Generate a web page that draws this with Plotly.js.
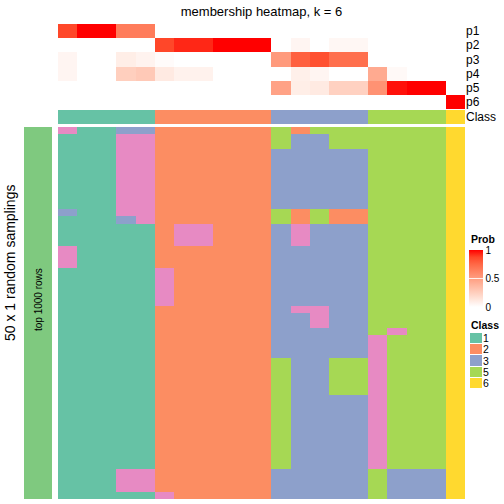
<!DOCTYPE html>
<html>
<head>
<meta charset="utf-8">
<script src="https://cdn.plot.ly/plotly-3.0.1.min.js"></script>
<style>html,body{margin:0;padding:0;background:#fff;overflow:hidden;}#chart{width:560px;height:504px;}</style>
</head>
<body>
<div id="chart"></div>
<script>
// ---------- data ----------
const probLabels = ['p1','p2','p3','p4','p5','p6'];
const p1 = [0.87,1,1,0.66,0.66, 0,0,0,0,0,0, 0,0,0,0,0, 0,0,0,0, 0];
const p2 = [0,0,0,0,0, 0.87,0.93,0.93,1,1,1, 0,0.05,0,0.04,0.04, 0,0,0,0, 0];
const p3 = [0.05,0,0,0.09,0.06, 0.02,0,0,0,0,0, 0.52,0.78,0.84,0.72,0.72, 0,0,0,0, 0];
const p4 = [0.05,0,0,0.25,0.28, 0.11,0.07,0.07,0,0,0, 0,0.08,0.05,0,0, 0.44,0.03,0,0, 0];
const p5 = [0,0,0,0,0, 0,0,0,0,0,0, 0.48,0.09,0.11,0.24,0.24, 0.56,0.97,1,1, 0];
const p6 = [0,0,0,0,0, 0,0,0,0,0,0, 0,0,0,0,0, 0,0,0,0, 1];
const sampleClass = [1,1,1,1,1, 2,2,2,2,2,2, 3,3,3,3,3, 5,5,5,5, 6];
const classLevels = ['1','2','3','5','6'];
const classColors = {1:'#66C2A5',2:'#FC8D62',3:'#8DA0CB',4:'#E78AC3',5:'#A6D854',6:'#FFD92F'};
const samplingLabel = 'top 1000 rows';
const samplingRows = [
 [4,1,1,3,3, 2,2,2,2,2,2, 5,2,5,5,5, 5,5,5,5, 6],
 [1,1,1,4,4, 2,2,2,2,2,2, 5,3,3,5,5, 5,5,5,5, 6],
 [1,1,1,4,4, 2,2,2,2,2,2, 5,3,3,5,5, 5,5,5,5, 6],
 [1,1,1,4,4, 2,2,2,2,2,2, 3,3,3,3,3, 5,5,5,5, 6],
 [1,1,1,4,4, 2,2,2,2,2,2, 3,3,3,3,3, 5,5,5,5, 6],
 [1,1,1,4,4, 2,2,2,2,2,2, 3,3,3,3,3, 5,5,5,5, 6],
 [1,1,1,4,4, 2,2,2,2,2,2, 3,3,3,3,3, 5,5,5,5, 6],
 [1,1,1,4,4, 2,2,2,2,2,2, 3,3,3,3,3, 5,5,5,5, 6],
 [1,1,1,4,4, 2,2,2,2,2,2, 3,3,3,3,3, 5,5,5,5, 6],
 [1,1,1,4,4, 2,2,2,2,2,2, 3,3,3,3,3, 5,5,5,5, 6],
 [1,1,1,4,4, 2,2,2,2,2,2, 3,3,3,3,3, 5,5,5,5, 6],
 [3,1,1,4,4, 2,2,2,2,2,2, 5,2,5,2,2, 5,5,5,5, 6],
 [1,1,1,3,4, 2,2,2,2,2,2, 5,2,5,2,2, 5,5,5,5, 6],
 [1,1,1,1,1, 2,4,4,2,2,2, 3,4,3,3,3, 5,5,5,5, 6],
 [1,1,1,1,1, 2,4,4,2,2,2, 3,4,3,3,3, 5,5,5,5, 6],
 [1,1,1,1,1, 2,4,4,2,2,2, 3,4,3,3,3, 5,5,5,5, 6],
 [4,1,1,1,1, 2,2,2,2,2,2, 3,3,3,3,3, 5,5,5,5, 6],
 [4,1,1,1,1, 2,2,2,2,2,2, 3,3,3,3,3, 5,5,5,5, 6],
 [4,1,1,1,1, 2,2,2,2,2,2, 3,3,3,3,3, 5,5,5,5, 6],
 [1,1,1,1,1, 4,2,2,2,2,2, 3,3,3,3,3, 5,5,5,5, 6],
 [1,1,1,1,1, 4,2,2,2,2,2, 3,3,3,3,3, 5,5,5,5, 6],
 [1,1,1,1,1, 4,2,2,2,2,2, 3,3,3,3,3, 5,5,5,5, 6],
 [1,1,1,1,1, 4,2,2,2,2,2, 3,3,3,3,3, 5,5,5,5, 6],
 [1,1,1,1,1, 4,2,2,2,2,2, 3,3,3,3,3, 5,5,5,5, 6],
 [1,1,1,1,1, 2,2,2,2,2,2, 3,4,4,3,3, 5,5,5,5, 6],
 [1,1,1,1,1, 2,2,2,2,2,2, 3,3,4,3,3, 5,5,5,5, 6],
 [1,1,1,1,1, 2,2,2,2,2,2, 3,3,4,3,3, 5,5,5,5, 6],
 [1,1,1,1,1, 2,2,2,2,2,2, 3,3,3,3,3, 5,4,5,5, 6],
 [1,1,1,1,1, 2,2,2,2,2,2, 3,3,3,3,3, 4,5,5,5, 6],
 [1,1,1,1,1, 2,2,2,2,2,2, 3,3,3,3,3, 4,5,5,5, 6],
 [1,1,1,1,1, 2,2,2,2,2,2, 3,3,3,3,3, 4,5,5,5, 6],
 [1,1,1,1,1, 2,2,2,2,2,2, 5,3,3,5,5, 4,5,5,5, 6],
 [1,1,1,1,1, 2,2,2,2,2,2, 5,3,3,5,5, 4,5,5,5, 6],
 [1,1,1,1,1, 2,2,2,2,2,2, 5,3,3,5,5, 4,5,5,5, 6],
 [1,1,1,1,1, 2,2,2,2,2,2, 5,3,3,5,5, 4,5,5,5, 6],
 [1,1,1,1,1, 2,2,2,2,2,2, 5,3,3,5,5, 4,5,5,5, 6],
 [1,1,1,1,1, 2,2,2,2,2,2, 5,3,3,3,3, 4,5,5,5, 6],
 [1,1,1,1,1, 2,2,2,2,2,2, 5,3,3,3,3, 4,5,5,5, 6],
 [1,1,1,1,1, 2,2,2,2,2,2, 5,3,3,3,3, 4,5,5,5, 6],
 [1,1,1,1,1, 2,2,2,2,2,2, 5,3,3,3,3, 4,5,5,5, 6],
 [1,1,1,1,1, 2,2,2,2,2,2, 5,3,3,3,3, 4,5,5,5, 6],
 [1,1,1,1,1, 2,2,2,2,2,2, 5,3,3,3,3, 4,5,5,5, 6],
 [1,1,1,1,1, 2,2,2,2,2,2, 5,3,3,3,3, 4,5,5,5, 6],
 [1,1,1,1,1, 2,2,2,2,2,2, 5,3,3,3,3, 4,5,5,5, 6],
 [1,1,1,1,1, 2,2,2,2,2,2, 5,3,3,3,3, 4,5,5,5, 6],
 [1,1,1,1,1, 2,2,2,2,2,2, 5,3,3,3,3, 4,5,5,5, 6],
 [1,1,1,4,4, 2,2,2,2,2,2, 3,3,3,3,3, 5,3,3,3, 6],
 [1,1,1,4,4, 2,2,2,2,2,2, 3,3,3,3,3, 5,3,3,3, 6],
 [1,1,1,4,4, 2,2,2,2,2,2, 3,3,3,3,3, 5,3,3,3, 6],
 [1,1,1,1,1, 4,2,2,2,2,2, 3,3,3,3,3, 5,3,3,3, 6]
];

// ---------- helpers ----------
// The figure is laid out 560 px wide so the colour bar never forces a margin;
// only the left 504 px are visible in the 504x504 window.
const W = 560, H = 504;
const px = v => v / W;            // x pixel -> paper
const py = v => 1 - v / H;        // y pixel (from top) -> paper
const font = 'Liberation Sans, Arial, Helvetica, sans-serif';
const nS = sampleClass.length;
const xs = Array.from({length: nS}, (_, i) => i);

// discrete class colour scale (values 1..6)
const classScale = [];
for (let k = 1; k <= 6; k++) {
  classScale.push([(k - 1) / 6, classColors[k]]);
  classScale.push([k / 6, classColors[k]]);
}
// white -> red (Lab-like interpolation)
const probScale = [
  [0, '#FFFFFF'], [0.125, '#FFE7DE'], [0.25, '#FFCFBE'], [0.375, '#FFB7A0'],
  [0.5, '#FF9E81'], [0.625, '#FF8463'], [0.75, '#FF6846'], [0.875, '#FF4628'], [1, '#FF0000']
];

const hx = [px(58), px(465)];
const probDom = [py(109), py(24)];
const classDom = [py(124), py(110)];
const mainDom = [py(499), py(127)];

const traces = [
  {
    type: 'heatmap', x: xs, y: probLabels, z: [p1, p2, p3, p4, p5, p6],
    xaxis: 'x', yaxis: 'y', zmin: 0, zmax: 1, colorscale: probScale, hoverinfo: 'skip',
    colorbar: {
      x: px(469), xanchor: 'left', xpad: 0, y: py(250), yanchor: 'top', ypad: 0,
      len: 57, lenmode: 'pixels', thickness: 14, thicknessmode: 'pixels',
      outlinewidth: 0, tickvals: [0, 0.5, 1], ticktext: ['0', '0.5', '1'],
      ticks: 'inside', ticklen: 14, tickcolor: 'rgba(255,255,255,0.85)',
      tickfont: {family: font, size: 10, color: '#000'}
    }
  },
  {
    type: 'heatmap', x: xs, y: ['Class'], z: [sampleClass],
    xaxis: 'x', yaxis: 'y2', zmin: 0.5, zmax: 6.5, colorscale: classScale, showscale: false, hoverinfo: 'skip'
  },
  {
    type: 'heatmap', x: xs, y: samplingRows.map((_, i) => i), z: samplingRows,
    xaxis: 'x', yaxis: 'y3', zmin: 0.5, zmax: 6.5, colorscale: classScale, showscale: false, hoverinfo: 'skip'
  },
  {
    type: 'heatmap', x: [0], y: [0], z: [[1]],
    xaxis: 'x2', yaxis: 'y4', colorscale: [[0, '#7FC97F'], [1, '#7FC97F']], showscale: false, hoverinfo: 'skip'
  },
  {
    type: 'heatmap', x: [0], y: classLevels, z: classLevels.map(c => [Number(c)]),
    xaxis: 'x3', yaxis: 'y5', zmin: 0.5, zmax: 6.5, colorscale: classScale, showscale: false,
    ygap: 1, hoverinfo: 'skip'
  }
];

const hidden = {showgrid: false, zeroline: false, showticklabels: false, ticks: '', showline: false, fixedrange: true};

const layout = {
  width: W, height: H,
  margin: {l: 0, r: 0, t: 0, b: 0},
  paper_bgcolor: '#fff', plot_bgcolor: 'rgba(0,0,0,0)',
  font: {family: font, color: '#000'},
  title: {
    text: 'membership heatmap, k = 6', font: {family: font, size: 13, color: '#000'},
    x: (58 + 465) / 2 / W, xanchor: 'center', xref: 'paper',
    y: py(11), yanchor: 'middle', yref: 'paper'
  },
  xaxis: Object.assign({}, hidden, {domain: hx, range: [-0.5, nS - 0.5]}),
  yaxis: Object.assign({}, hidden, {
    domain: probDom, anchor: 'x', type: 'category', autorange: 'reversed',
    side: 'right', showticklabels: true, tickmode: 'array', tickvals: probLabels,
    tickfont: {family: font, size: 12}
  }),
  yaxis2: Object.assign({}, hidden, {
    domain: classDom, anchor: 'x', type: 'category',
    side: 'right', showticklabels: true, tickfont: {family: font, size: 12}
  }),
  yaxis3: Object.assign({}, hidden, {domain: mainDom, anchor: 'x', autorange: 'reversed'}),
  xaxis2: Object.assign({}, hidden, {domain: [px(24), px(52)], anchor: 'y4'}),
  yaxis4: Object.assign({}, hidden, {domain: mainDom, anchor: 'x2'}),
  xaxis3: Object.assign({}, hidden, {domain: [px(470), px(482)], anchor: 'y5'}),
  yaxis5: Object.assign({}, hidden, {
    domain: [py(389), py(333)], anchor: 'x3', type: 'category', autorange: 'reversed',
    side: 'right', showticklabels: true, tickmode: 'array', tickvals: classLevels,
    tickfont: {family: font, size: 10.5}
  }),
  annotations: [
    {text: '50 x 1 random samplings', textangle: -90, x: px(10), y: py(263), xref: 'paper', yref: 'paper',
     showarrow: false, xanchor: 'center', yanchor: 'middle', font: {family: font, size: 14, color: '#000'}},
    {text: samplingLabel, textangle: -90, x: px(38), y: py(300), xref: 'paper', yref: 'paper',
     showarrow: false, xanchor: 'center', yanchor: 'middle', font: {family: font, size: 10, color: '#000'}},
    {text: '<b>Prob</b>', x: px(469), y: py(239), xref: 'paper', yref: 'paper', showarrow: false,
     xanchor: 'left', yanchor: 'middle', font: {family: font, size: 10.5, color: '#000'}},
    {text: '<b>Class</b>', x: px(469), y: py(325), xref: 'paper', yref: 'paper', showarrow: false,
     xanchor: 'left', yanchor: 'middle', font: {family: font, size: 10.5, color: '#000'}}
  ]
};

Plotly.newPlot('chart', traces, layout, {displayModeBar: false, staticPlot: true});
</script>
</body>
</html>
